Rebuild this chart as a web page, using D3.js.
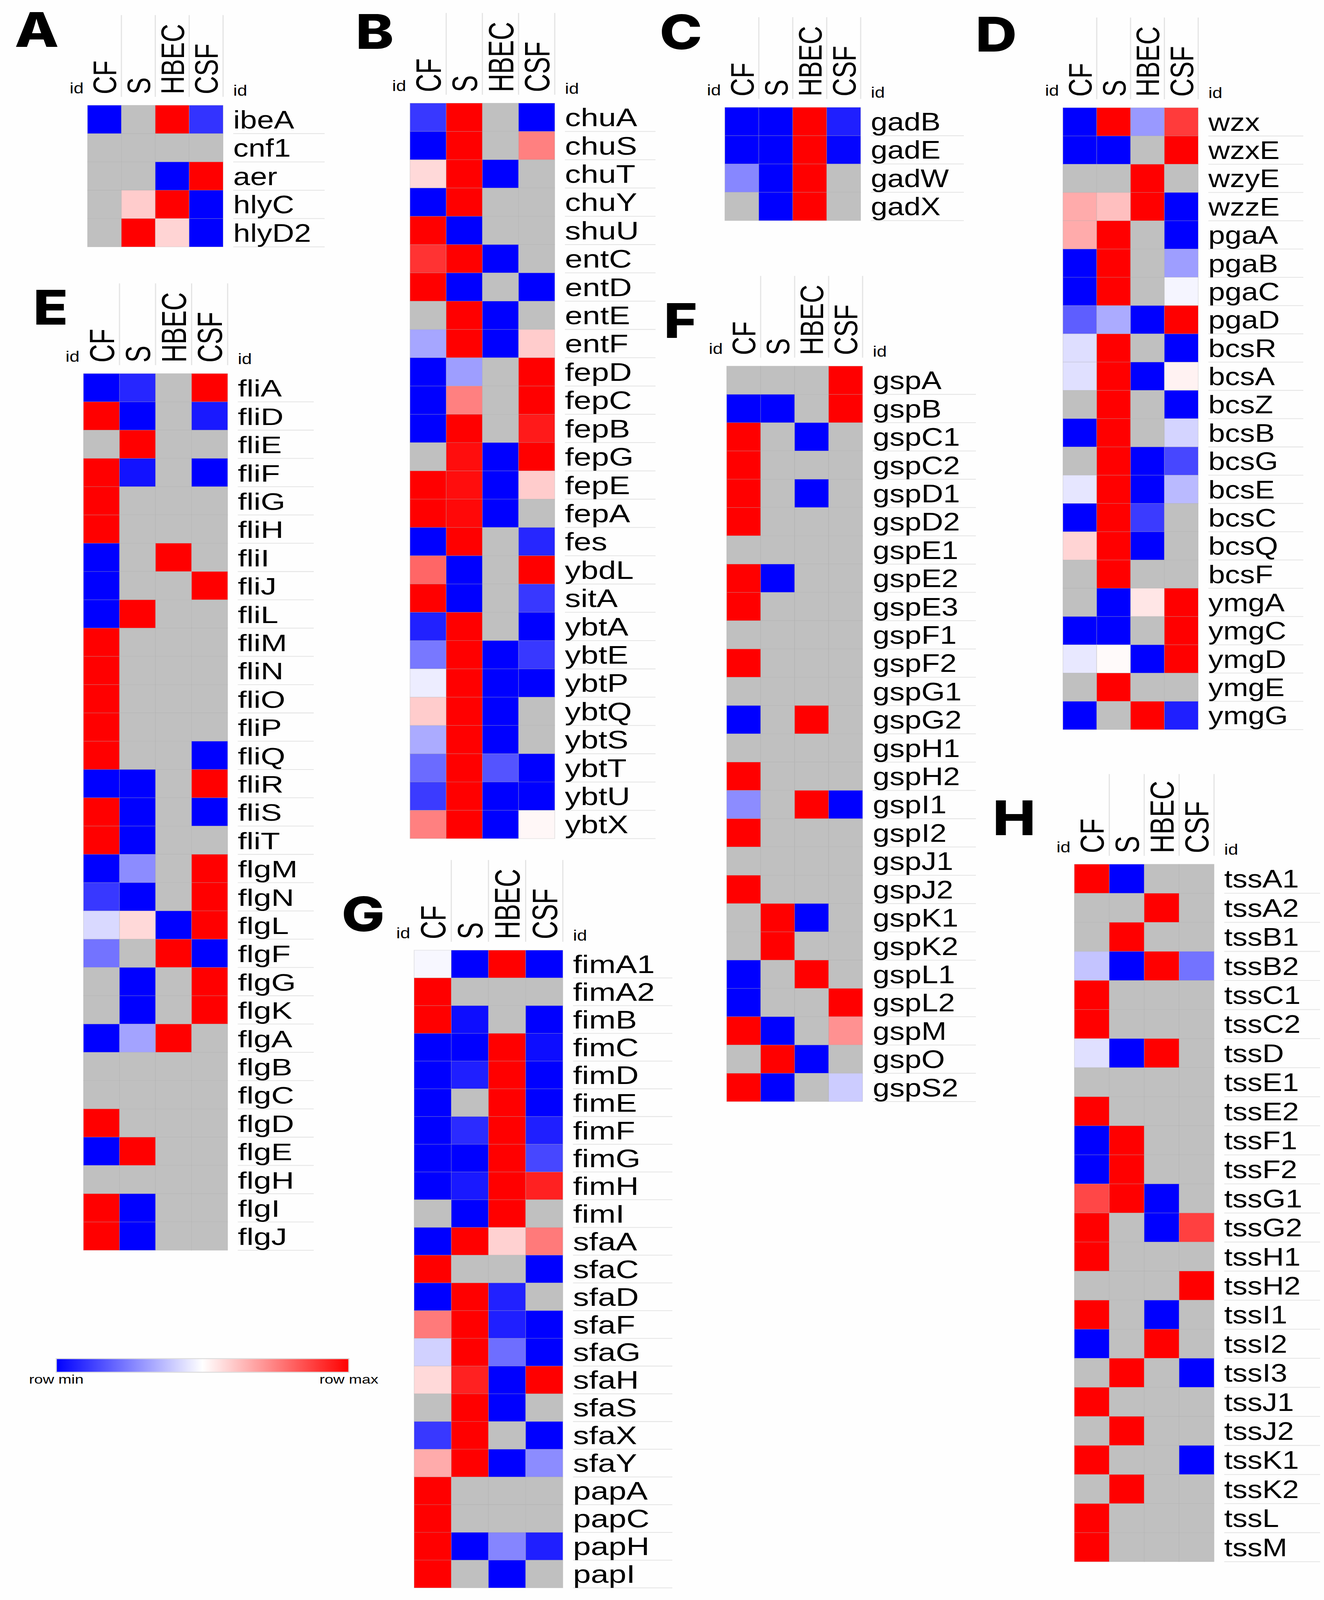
<!DOCTYPE html>
<html><head><meta charset="utf-8">
<script src="https://cdn.jsdelivr.net/npm/d3@7"></script>
<style>html,body{margin:0;padding:0;background:#fff;overflow:hidden}svg{display:block}</style>
</head><body><svg id="chart"></svg>
<script>
const N = null;
const samples = ["CF","S","HBEC","CSF"];

const genesA = ["ibeA","cnf1","aer","hlyC","hlyD2"];
const valuesA = [[-1,N,1,-.8],[N,N,N,N],[N,N,-1,1],[N,.2,1,-1],[N,1,.17,-1]];

const genesB = ["chuA","chuS","chuT","chuY","shuU","entC","entD","entE","entF","fepD","fepC","fepB","fepG","fepE","fepA","fes","ybdL","sitA","ybtA","ybtE","ybtP","ybtQ","ybtS","ybtT","ybtU","ybtX"];
const valuesB = [[-.78,1,N,-1],[-1,1,N,.5],[.15,1,-1,N],[-1,1,N,N],[1,-1,N,N],[.8,1,-1,N],[1,-1,N,-1],[N,1,-1,N],[-.35,1,-1,.2],[-1,-.38,N,1],[-1,.5,N,1],[-1,1,N,.9],[N,.95,-1,1],[1,.95,-1,.2],[1,.97,-1,N],[-1,1,N,-.85],[.6,-1,N,1],[1,-1,N,-.78],[-.87,1,N,-1],[-.53,1,-1,-.78],[-.07,1,-1,-1],[.2,1,-1,N],[-.33,1,-1,N],[-.58,1,-.67,-1],[-.77,1,-1,-1],[.5,1,-1,.03]];

const genesC = ["gadB","gadE","gadW","gadX"];
const valuesC = [[-1,-1,1,-.88],[-1,-1,1,-.98],[-.47,-1,1,N],[N,-1,1,N]];

const genesD = ["wzx","wzxE","wzyE","wzzE","pgaA","pgaB","pgaC","pgaD","bcsR","bcsA","bcsZ","bcsB","bcsG","bcsE","bcsC","bcsQ","bcsF","ymgA","ymgC","ymgD","ymgE","ymgG"];
const valuesD = [[-1,1,-.4,.77],[-1,-1,N,1],[N,N,1,N],[.33,.25,1,-1],[.33,1,N,-1],[-1,1,N,-.38],[-1,1,N,-.04],[-.63,-.33,-1,1],[-.13,1,N,-1],[-.12,1,-1,.05],[N,1,N,-1],[-1,1,N,-.17],[N,1,-1,-.72],[-.1,1,-1,-.27],[-1,1,-.77,N],[.17,1,-1,N],[N,1,N,N],[N,-1,.1,1],[-1,-1,N,1],[-.09,.02,-1,1],[N,1,N,N],[-1,N,1,-.88]];

const genesE = ["fliA","fliD","fliE","fliF","fliG","fliH","fliI","fliJ","fliL","fliM","fliN","fliO","fliP","fliQ","fliR","fliS","fliT","flgM","flgN","flgL","flgF","flgG","flgK","flgA","flgB","flgC","flgD","flgE","flgH","flgI","flgJ"];
const valuesE = [[-1,-.85,N,1],[1,-1,N,-.9],[N,1,N,N],[1,-.93,N,-1],[1,N,N,N],[1,N,N,N],[-1,N,1,N],[-1,N,N,1],[-1,1,N,N],[1,N,N,N],[1,N,N,N],[1,N,N,N],[1,N,N,N],[1,N,N,-1],[-1,-1,N,1],[1,-1,N,-1],[1,-1,N,N],[-1,-.45,N,1],[-.78,-1,N,1],[-.15,.15,-1,1],[-.55,N,1,-1],[N,-1,N,1],[N,-1,N,1],[-1,-.36,1,N],[N,N,N,N],[N,N,N,N],[1,N,N,N],[-1,1,N,N],[N,N,N,N],[1,-1,N,N],[1,-1,N,N]];

const genesF = ["gspA","gspB","gspC1","gspC2","gspD1","gspD2","gspE1","gspE2","gspE3","gspF1","gspF2","gspG1","gspG2","gspH1","gspH2","gspI1","gspI2","gspJ1","gspJ2","gspK1","gspK2","gspL1","gspL2","gspM","gspO","gspS2"];
const valuesF = [[N,N,N,1],[-1,-1,N,1],[1,N,-1,N],[1,N,N,N],[1,N,-1,N],[1,N,N,N],[N,N,N,N],[1,-1,N,N],[1,N,N,N],[N,N,N,N],[1,N,N,N],[N,N,N,N],[-1,N,1,N],[N,N,N,N],[1,N,N,N],[-.45,N,1,-1],[1,N,N,N],[N,N,N,N],[1,N,N,N],[N,1,-1,N],[N,1,N,N],[-1,N,1,N],[-1,N,N,1],[1,-1,N,.43],[N,1,-1,N],[1,-1,N,-.2]];

const genesG = ["fimA1","fimA2","fimB","fimC","fimD","fimE","fimF","fimG","fimH","fimI","sfaA","sfaC","sfaD","sfaF","sfaG","sfaH","sfaS","sfaX","sfaY","papA","papC","papH","papI"];
const valuesG = [[-.03,-1,1,-1],[1,N,N,N],[1,-.95,N,-1],[-1,-1,1,-.95],[-1,-.88,1,-1],[-1,N,1,-1],[-1,-.83,1,-.88],[-1,-1,1,-.72],[-1,-.9,1,.87],[N,-1,1,N],[-1,1,.18,.52],[1,N,N,-1],[-1,1,-.87,N],[.52,1,-.88,-1],[-.18,1,-.57,-1],[.15,.87,-1,1],[N,1,-1,N],[-.78,1,N,-1],[.33,1,-1,-.45],[1,N,N,N],[1,N,N,N],[1,-1,-.48,-.88],[1,N,-1,N]];

const genesH = ["tssA1","tssA2","tssB1","tssB2","tssC1","tssC2","tssD","tssE1","tssE2","tssF1","tssF2","tssG1","tssG2","tssH1","tssH2","tssI1","tssI2","tssI3","tssJ1","tssJ2","tssK1","tssK2","tssL","tssM"];
const valuesH = [[1,-1,N,N],[N,N,1,N],[N,1,N,N],[-.23,-1,1,-.55],[1,N,N,N],[1,N,N,N],[-.12,-1,1,N],[N,N,N,N],[1,N,N,N],[-1,1,N,N],[-1,1,N,N],[.72,1,-1,N],[1,N,-1,.75],[1,N,N,N],[N,N,N,1],[1,N,-1,N],[-1,N,1,N],[N,1,N,-1],[1,N,N,N],[N,1,N,N],[1,N,N,-1],[N,1,N,N],[1,N,N,N],[1,N,N,N]];

const legendLabels = ["row min","row max"];

// layout of each panel on the page
const panels = [
 {id:"A",genes:genesA,values:valuesA,L:224,R:571,T:324.5,B:761,uEnd:831,lx:94,ly:144,sx:1,sy:1,cross:1.06,along:1},
 {id:"B",genes:genesB,values:valuesB,L:1049.5,R:1420,T:318,B:2585,uEnd:1678,lx:959,ly:151,sx:1.04,sy:1,cross:1.16,along:1},
 {id:"C",genes:genesC,values:valuesC,L:1855.4,R:2203,T:331,B:680,uEnd:2467,lx:1743,ly:152,sx:.98,sy:1,cross:1.07,along:1},
 {id:"D",genes:genesD,values:valuesD,L:2720.7,R:3067,T:332,B:2249,uEnd:3336,lx:2550,ly:159,sx:.98,sy:1,cross:1.07,along:1},
 {id:"E",genes:genesE,values:valuesE,L:213.6,R:582.7,T:1151.5,B:3854,uEnd:803,lx:129.5,ly:1001,sx:1.04,sy:.95,cross:1.14,along:1},
 {id:"F",genes:genesF,values:valuesF,L:1860,R:2208,T:1128.5,B:3395.6,uEnd:2498,lx:1742,ly:1042,sx:.99,sy:1,cross:1.07,along:1},
 {id:"G",genes:genesG,values:valuesG,L:1060,R:1440.7,T:2929,B:4894.6,uEnd:1721,lx:929.5,ly:2870,sx:1.05,sy:1,cross:1.16,along:1},
 {id:"H",genes:genesH,values:valuesH,L:2750,R:3107.6,T:2664,B:4814,uEnd:3379,lx:2596,ly:2574,sx:.98,sy:1,cross:1.09,along:1.03}
];

const W = 3389, H = 4932, FONT = "'Liberation Sans', Arial, sans-serif";
const color = d3.scaleLinear().domain([-1,0,1]).range(["#0000ff","#ffffff","#ff0000"]);
const MISSING = "#c0c0c0", RULE = "#e4e4e4";

// The whole 3389x4932 drawing is mapped onto the window that is really available.
const svg = d3.select("#chart")
  .attr("width",window.innerWidth||W).attr("height",Math.min(H,window.innerHeight||H))
  .attr("viewBox",`0 0 ${W} ${H}`).attr("preserveAspectRatio","none");
svg.append("rect").attr("width",W).attr("height",H).attr("fill","#fefefe");

panels.forEach(p => {
  const g = svg.append("g").attr("class","panel-"+p.id);
  const x = d3.scaleBand().domain(samples).range([p.L,p.R]);
  const y = d3.scaleBand().domain(p.genes).range([p.T,p.B]);

  p.genes.forEach((gene,i) => {
    g.selectAll(null).data(samples.map((s,j)=>({s,v:p.values[i][j]}))).join("rect")
      .attr("x",d=>x(d.s)).attr("y",y(gene)).attr("width",x.bandwidth()).attr("height",y.bandwidth())
      .attr("fill",d=>d.v===null?MISSING:color(d.v))
      .attr("stroke","#a8a8a8").attr("stroke-opacity",.35).attr("stroke-width",1.5);
    g.append("line").attr("x1",p.R+26).attr("x2",p.uEnd)
      .attr("y1",y(gene)+y.bandwidth()).attr("y2",y(gene)+y.bandwidth())
      .attr("stroke",RULE).attr("stroke-width",2.5);
    g.append("text").text(gene)
      .attr("transform",`translate(${p.R+26},${y(gene)+y.bandwidth()/2+27.5}) scale(${p.sx},${p.sy})`)
      .attr("font-family",FONT).attr("font-size",78).attr("fill","#000");
  });

  samples.forEach(s => {
    const cross = 28*p.cross;
    g.append("text").text(s)
      .attr("transform",`translate(${x(s)+x.bandwidth()/2+cross},${p.T-34}) rotate(-90) scale(${p.along},${p.cross})`)
      .attr("font-family",FONT).attr("font-size",78).attr("fill","#000");
    g.append("line").attr("x1",x(s)+x.bandwidth()).attr("x2",x(s)+x.bandwidth())
      .attr("y1",p.T-278).attr("y2",p.T-26).attr("stroke",RULE).attr("stroke-width",3);
  });

  g.append("text").text("id").attr("x",p.L-10).attr("y",p.T-37).attr("text-anchor","end")
    .attr("font-family",FONT).attr("font-size",46);
  g.append("text").text("id").attr("x",p.R+26).attr("y",p.T-29.5)
    .attr("font-family",FONT).attr("font-size",46);
  g.append("text").text(p.id).attr("x",p.lx).attr("y",p.ly).attr("text-anchor","middle")
    .attr("font-family","Inter, sans-serif").attr("font-weight",800).attr("font-size",147).attr("fill","#000");
});

// colour legend
const legendX = d3.scaleLinear().domain([-1,1]).range([144,893]);
const defs = svg.append("defs");
const grad = defs.append("linearGradient").attr("id","legendGrad");
[-1,0,1].forEach(v => grad.append("stop").attr("offset",(v+1)/2).attr("stop-color",color(v)));
svg.append("rect").attr("x",legendX(-1)).attr("y",4188).attr("width",legendX(1)-legendX(-1)).attr("height",42)
  .attr("fill","url(#legendGrad)").attr("stroke","#dcdcdc").attr("stroke-width",3);
[-1,1].forEach((v,i) => svg.append("text").text(legendLabels[i])
  .attr("transform",`translate(${legendX(v)},4265) scale(1.05,1)`).attr("text-anchor","middle")
  .attr("font-family",FONT).attr("font-size",38));
</script></body></html>
